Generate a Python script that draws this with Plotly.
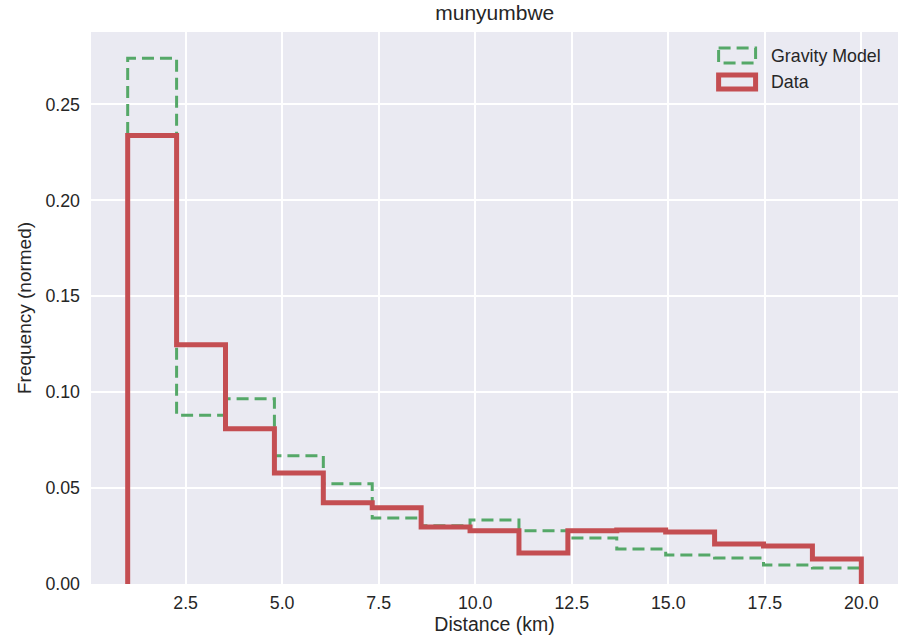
import plotly.graph_objects as go

bin_edges = [1.0, 2.2667, 3.5333, 4.8, 6.0667, 7.3333, 8.6, 9.8667, 11.1333,
             12.4, 13.6667, 14.9333, 16.2, 17.4667, 18.7333, 20.0]
gravity_model = [0.274, 0.088, 0.0966, 0.0668, 0.0522, 0.0344, 0.0303, 0.0334,
                 0.0277, 0.0240, 0.0183, 0.0151, 0.0136, 0.0099, 0.0084]
data_freq = [0.2338, 0.1247, 0.0809, 0.0579, 0.0423, 0.0397, 0.0297, 0.0277,
             0.0162, 0.0277, 0.0282, 0.0271, 0.0209, 0.0198, 0.0130]

GREEN = "#55A868"
RED = "#C44E52"
FONT = "Liberation Sans, Arial, sans-serif"
TXT = "#262626"


def step_xy(edges, vals):
    xs = [edges[0]] + list(edges[:-1]) + [edges[-1]]
    ys = [0] + list(vals) + [0]
    return xs, ys


fig = go.Figure()
gx, gy = step_xy(bin_edges, gravity_model)
fig.add_trace(go.Scatter(x=gx, y=gy, mode="lines", line_shape="hv",
                         line=dict(color=GREEN, width=3, dash="12px,6px"),
                         name="Gravity Model", showlegend=False))
dx, dy = step_xy(bin_edges, data_freq)
fig.add_trace(go.Scatter(x=dx, y=dy, mode="lines", line_shape="hv",
                         line=dict(color=RED, width=5),
                         name="Data", showlegend=False))

# manual legend (patch-style handles)
W, H = 906, 641
L, R, T, B = 91, 7.5, 32, 57
pw, ph = W - L - R, H - T - B


def px(xp):
    return (xp - L) / pw


def py(yp):
    return 1 - (yp - T) / ph


fig.add_shape(type="rect", xref="paper", yref="paper",
              x0=px(719), x1=px(756), y0=py(48), y1=py(63),
              line=dict(color=GREEN, width=3, dash="12px,6px"), fillcolor="rgba(0,0,0,0)")
fig.add_shape(type="rect", xref="paper", yref="paper",
              x0=px(719), x1=px(756), y0=py(75), y1=py(89),
              line=dict(color=RED, width=5), fillcolor="rgba(0,0,0,0)")
fig.add_annotation(xref="paper", yref="paper", x=px(769), y=py(56), text="Gravity Model",
                   showarrow=False, xanchor="left", yanchor="middle",
                   font=dict(family=FONT, size=17.8, color=TXT))
fig.add_annotation(xref="paper", yref="paper", x=px(769), y=py(82), text="Data",
                   showarrow=False, xanchor="left", yanchor="middle",
                   font=dict(family=FONT, size=17.8, color=TXT))

fig.update_layout(
    width=W, height=H,
    margin=dict(l=L, r=R, t=T, b=B),
    paper_bgcolor="white", plot_bgcolor="#EAEAF2",
    font=dict(family=FONT, size=17.8, color=TXT),
    title=dict(text="munyumbwe", x=(L + pw / 2) / W, xanchor="center",
               y=1 - 13 / H, yanchor="middle", font=dict(size=21, color=TXT)),
)
fig.update_xaxes(range=[0.05, 20.95], tickvals=[2.5, 5, 7.5, 10, 12.5, 15, 17.5, 20],
                 tickformat=".1f", showgrid=True, gridcolor="white", gridwidth=1.5,
                 zeroline=False, showline=False, ticks="", ticklabelstandoff=6,
                 title=dict(text="Distance (km)", standoff=4, font=dict(size=19.5)),
                 tickfont=dict(size=17.8))
fig.update_yaxes(range=[0, 0.2877], tickvals=[0, 0.05, 0.1, 0.15, 0.2, 0.25],
                 tickformat=".2f", showgrid=True, gridcolor="white", gridwidth=1.5,
                 zeroline=False, showline=False, ticks="", ticklabelstandoff=10,
                 title=dict(text="Frequency (normed)", standoff=8, font=dict(size=19)),
                 tickfont=dict(size=17.8))

fig.write_html("out.html", config={"displayModeBar": False},
               post_script="document.body.style.margin='0';")
